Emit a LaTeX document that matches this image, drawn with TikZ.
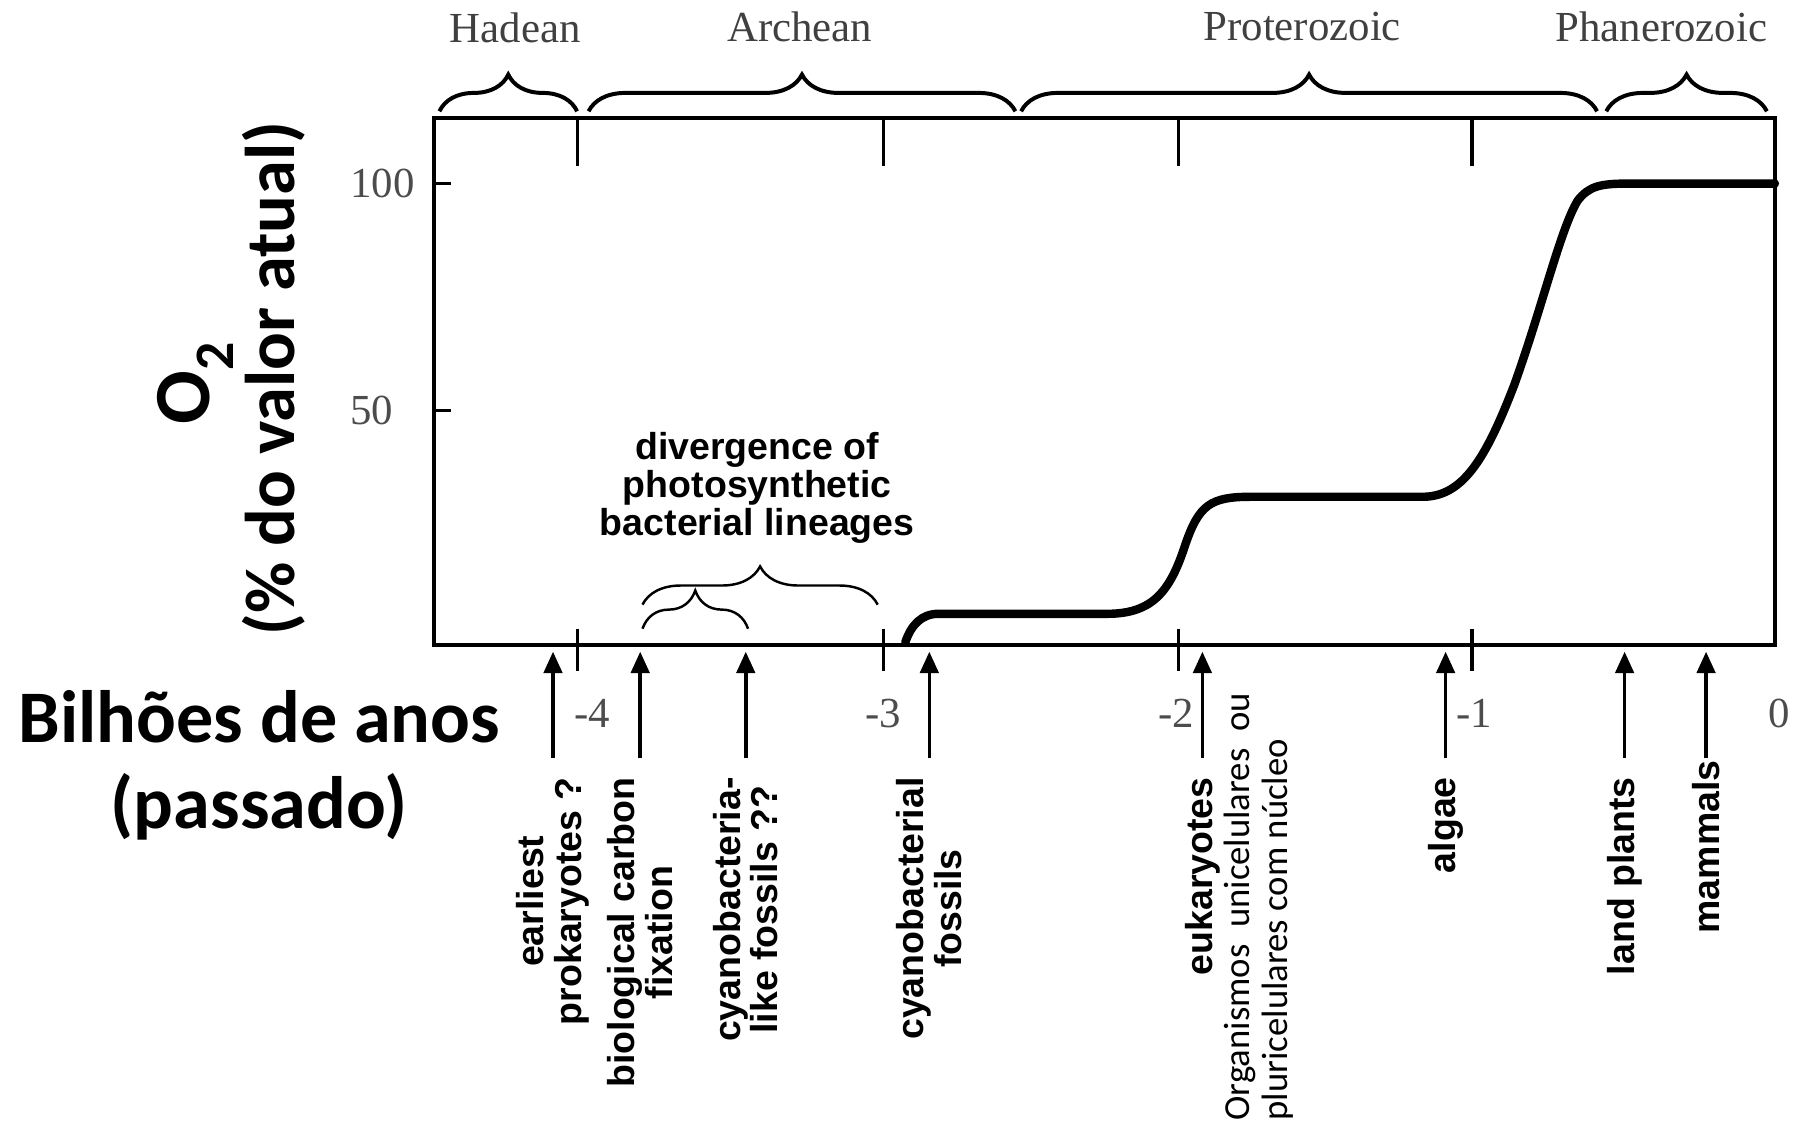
\documentclass[tikz,border=0pt]{standalone}
\usepackage{fontspec}
\setmainfont{Liberation Serif}
\newfontfamily\helvfont{Liberation Sans}
\newfontfamily\calfont{Carlito}
\usetikzlibrary{arrows.meta,decorations.pathreplacing}

\tikzset{every picture/.style={line width=0.75pt}}
\tikzset{
  axisline/.style={line width=2.4pt},
  tickline/.style={line width=2pt},
  eraname/.style={font=\fontsize{28}{30}\selectfont, text=black!75, inner sep=0pt},
  ticklabel/.style={font=\fontsize{28}{30}\selectfont, text=black!70, inner sep=0pt},
  erabrace/.style={decorate, decoration={brace, amplitude=24pt}, line width=2.6pt},
  divbrace/.style={decorate, decoration={brace, amplitude=25pt}, line width=1.6pt},
  eventlabel/.style={rotate=90, anchor=east, align=center, inner xsep=12pt, inner ysep=0pt,
    font=\helvfont\bfseries\fontsize{24.5}{24.5}\selectfont},
  evarrow/.style={line width=2.4pt, -{Triangle[width=12pt,length=14pt]}},
  biglabel/.style={font=\calfont\bfseries\fontsize{48.5}{56.5}\selectfont, align=center, inner sep=0pt}
}

\begin{document}
\begin{tikzpicture}[x=0.75pt,y=0.75pt,yscale=-1,xscale=1]
        \useasboundingbox (0,0) rectangle (1568,980);
        \draw[axisline] (378,103) rectangle (1547,562);
        \draw[tickline] (378,160) -- (393,160);
        \draw[tickline] (378,358) -- (393,358);
        \draw[tickline] (503,103) -- (503,145);
        \draw[tickline] (770,103) -- (770,145);
        \draw[tickline] (1027,103) -- (1027,145);
        \draw[tickline] (1283,103) -- (1283,145);
        \draw[tickline] (503,548) -- (503,585);
        \draw[tickline] (770,548) -- (770,585);
        \draw[tickline] (1027,548) -- (1027,585);
        \draw[tickline] (1283,548) -- (1283,585);
        \draw[line width=5.5pt, line cap=round] (789,560) .. controls (794,545) and (803,535) .. (818,535) -- (965,535) .. controls (1005,535) and (1020,515) .. (1033,475) .. controls (1045,440) and (1055,433) .. (1090,433) -- (1240,433) .. controls (1275,433) and (1295,400) .. (1320,335) .. controls (1345,265) and (1360,200) .. (1375,175) .. controls (1385,162) and (1395,160) .. (1420,160) -- (1547,160);
        \draw[erabrace] (383,97) -- (503,97);
        \draw[erabrace] (513,97) -- (885,97);
        \draw[erabrace] (890,97) -- (1392,97);
        \draw[erabrace] (1400,97) -- (1540,97);
        \draw[divbrace] (560,527) -- (765,527);
        \draw[divbrace] (560,548) -- (652,548);
        \node[eraname] (hadean) at (449,24) {Hadean};
        \node[eraname] (archean) at (697,23) {Archean};
        \node[eraname] (protero) at (1135,23) {Proterozoic};
        \node[eraname] (phanero) at (1448,23) {Phanerozoic};
        \node[ticklabel, anchor=west] (ycent) at (305,160) {100};
        \node[ticklabel, anchor=west] (yhalf) at (305,358) {50};
        \node[ticklabel] (xfour) at (516,622) {-4};
        \node[ticklabel] (xthree) at (770,622) {-3};
        \node[ticklabel] (xtwo) at (1025,622) {-2};
        \node[ticklabel] (xone) at (1285,622) {-1};
        \node[ticklabel] (xzero) at (1551,622) {0};
        \node[align=center, inner sep=0pt, font=\helvfont\bfseries\fontsize{24.5}{24.75}\selectfont] (diverg) at (660,425) {divergence of\\photosynthetic\\bacterial lineages};
        \coordinate (pEarly) at (482,568);
        \coordinate (pCarbon) at (558,568);
        \coordinate (pCyanoLike) at (650,568);
        \coordinate (pCyano) at (810,568);
        \coordinate (pEuk) at (1048,568);
        \coordinate (pAlgae) at (1260,568);
        \coordinate (pLand) at (1416,568);
        \coordinate (pMamm) at (1487,568);
        \node[eventlabel] (lEarly) at (482,661) {earliest\\prokaryotes ?};
        \node[eventlabel] (lCarbon) at (558,661) {biological carbon\\fixation};
        \node[eventlabel] (lCyanoLike) at (650,661) {cyanobacteria-\\like fossils ??};
        \node[eventlabel] (lCyano) at (810,661) {cyanobacterial\\fossils};
        \node[eventlabel] (lEuk) at (1048,661) {eukaryotes};
        \node[eventlabel] (lAlgae) at (1260,661) {algae};
        \node[eventlabel] (lLand) at (1416,661) {land plants};
        \node[eventlabel, inner xsep=1pt] (lMamm) at (1487,661) {mammals};
        \draw[evarrow] (lEarly.east) -- (pEarly);
        \draw[evarrow] (lCarbon.east) -- (pCarbon);
        \draw[evarrow] (lCyanoLike.east) -- (pCyanoLike);
        \draw[evarrow] (lCyano.east) -- (pCyano);
        \draw[evarrow] (lEuk.east) -- (pEuk);
        \draw[evarrow] (lAlgae.east) -- (pAlgae);
        \draw[evarrow] (lLand.east) -- (pLand);
        \draw[evarrow] (lMamm.east) -- (pMamm);
        \node[rotate=90, anchor=north west, align=left, inner sep=0pt, font=\calfont\fontsize{24}{25}\selectfont] (lOrg) at (1066,977) {Organismos\ \ unicelulares\ \ ou\\pluricelulares com núcleo};
        \node[biglabel] (xtitle) at (226,667) {Bilhões de anos\\(passado)};
        \node[rotate=90, anchor=base, inner sep=0pt, font=\calfont\bfseries\fontsize{52}{60}\selectfont] (otwo) at (183,334) {O\textsubscript{2}};
        \node[rotate=90, anchor=base, inner sep=0pt, font=\calfont\bfseries\fontsize{46}{55}\selectfont] (ytitle) at (257,330) {(\% do valor atual)};
\end{tikzpicture}
\end{document}
